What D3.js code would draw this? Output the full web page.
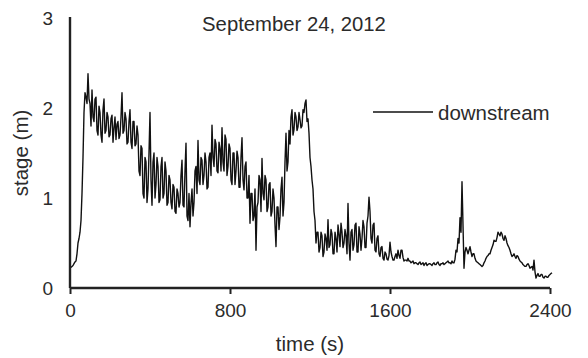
<!DOCTYPE html>
<html>
<head>
<meta charset="utf-8">
<script src="https://cdn.jsdelivr.net/npm/d3@7"></script>
<style>
  html, body { margin: 0; padding: 0; background: #fff; }
  svg { display: block; }
  text { font-family: "Liberation Sans", Arial, sans-serif; fill: #2b2b2b; }
</style>
</head>
<body>
<svg id="chart" width="588" height="358"></svg>
<script>
// ---- data ----
const title = "September 24, 2012";
const seriesName = "downstream";
const xLabel = "time (s)";
const yLabel = "stage (m)";
const xTicks = [0, 800, 1600, 2400];
const yTicks = [0, 1, 2, 3];
const sampleInterval = 5; // seconds between readings
// stage (m), one reading every 5 s from t = 0 s (each row = 50 s)
const stage = [
  0.22, 0.23, 0.24, 0.25, 0.27, 0.29, 0.30, 0.38, 0.50, 0.55,
  0.62, 0.75, 1.05, 1.45, 1.95, 2.17, 2.12, 2.05, 2.38, 2.10,
  2.05, 1.80, 2.20, 1.90, 1.85, 2.10, 2.12, 1.75, 1.70, 2.02,
  1.95, 1.70, 1.62, 1.98, 2.10, 1.72, 1.75, 1.95, 1.90, 1.68,
  1.70, 1.88, 1.92, 1.62, 1.78, 1.90, 1.65, 1.82, 1.85, 1.66,
  1.70, 1.90, 2.17, 1.72, 1.75, 1.95, 1.88, 1.60, 1.62, 1.85,
  1.98, 1.62, 1.55, 1.85, 1.85, 1.58, 1.60, 1.80, 1.70, 1.30,
  1.25, 1.58, 1.55, 1.05, 1.00, 1.45, 1.40, 0.95, 1.10, 1.50,
  1.95, 1.20, 0.92, 1.40, 1.50, 1.00, 1.15, 1.45, 1.35, 0.95,
  0.98, 1.35, 1.45, 1.00, 1.05, 1.40, 1.30, 0.92, 0.95, 1.25,
  1.20, 0.95, 0.88, 1.15, 1.12, 0.85, 0.83, 1.10, 1.05, 0.90,
  0.95, 1.25, 1.42, 0.92, 0.90, 1.30, 1.61, 0.80, 0.75, 1.05,
  0.68, 0.95, 1.10, 0.80, 0.95, 1.30, 1.35, 1.05, 1.64, 1.20,
  1.15, 1.45, 1.42, 1.15, 1.25, 1.50, 1.40, 1.10, 1.12, 1.45,
  1.50, 1.25, 1.81, 1.45, 1.35, 1.65, 1.60, 1.30, 1.28, 1.62,
  1.55, 1.30, 1.78, 1.40, 1.30, 1.70, 1.65, 1.25, 1.35, 1.60,
  1.55, 1.20, 1.15, 1.50, 1.50, 1.15, 1.30, 1.52, 1.45, 1.12,
  1.12, 1.45, 1.67, 1.20, 1.09, 1.35, 1.40, 1.00, 1.00, 1.25,
  0.72, 1.05, 1.05, 0.75, 0.80, 1.10, 0.42, 0.90, 0.95, 1.25,
  1.20, 0.85, 1.44, 1.05, 0.98, 1.25, 1.20, 0.85, 0.90, 1.15,
  1.17, 0.80, 0.85, 1.10, 1.00, 0.70, 0.46, 0.90, 0.90, 0.65,
  0.79, 1.10, 1.23, 0.80, 0.95, 1.40, 1.72, 1.30, 1.40, 1.75,
  1.60, 1.90, 1.98, 1.70, 1.76, 1.95, 1.90, 1.75, 1.79, 1.95,
  1.87, 1.78, 1.80, 1.98, 1.95, 2.05, 2.09, 1.85, 1.88, 1.72,
  1.45, 1.35, 1.20, 1.10, 0.85, 0.75, 0.50, 0.62, 0.62, 0.40,
  0.45, 0.62, 0.58, 0.35, 0.40, 0.60, 0.55, 0.42, 0.76, 0.45,
  0.48, 0.65, 0.60, 0.38, 0.38, 0.62, 0.55, 0.40, 0.70, 0.60,
  0.46, 0.72, 0.62, 0.45, 0.50, 0.65, 0.58, 0.38, 0.94, 0.50,
  0.31, 0.62, 0.65, 0.42, 0.48, 0.70, 0.72, 0.40, 0.40, 0.68,
  0.60, 0.42, 0.55, 0.75, 0.68, 0.45, 0.45, 0.72, 0.80, 1.01,
  0.85, 0.55, 0.50, 0.70, 0.72, 0.42, 0.40, 0.55, 0.58, 0.38,
  0.35, 0.45, 0.46, 0.33, 0.31, 0.40, 0.38, 0.32, 0.31, 0.36,
  0.51, 0.40, 0.35, 0.31, 0.31, 0.35, 0.38, 0.33, 0.42, 0.36,
  0.33, 0.42, 0.42, 0.34, 0.30, 0.31, 0.31, 0.30, 0.33, 0.30,
  0.30, 0.28, 0.29, 0.30, 0.27, 0.28, 0.28, 0.27, 0.26, 0.28,
  0.29, 0.26, 0.27, 0.28, 0.25, 0.27, 0.28, 0.25, 0.26, 0.27,
  0.27, 0.26, 0.25, 0.27, 0.28, 0.26, 0.26, 0.28, 0.29, 0.26,
  0.25, 0.27, 0.27, 0.28, 0.26, 0.27, 0.28, 0.29, 0.30, 0.28,
  0.28, 0.27, 0.30, 0.28, 0.28, 0.32, 0.42, 0.40, 0.55, 0.50,
  0.78, 0.62, 1.18, 0.70, 0.22, 0.40, 0.45, 0.42, 0.38, 0.42,
  0.46, 0.40, 0.35, 0.38, 0.38, 0.33, 0.30, 0.29, 0.28, 0.27,
  0.26, 0.25, 0.24, 0.25, 0.28, 0.30, 0.33, 0.35, 0.36, 0.38,
  0.38, 0.42, 0.45, 0.48, 0.53, 0.52, 0.52, 0.56, 0.62, 0.60,
  0.58, 0.62, 0.60, 0.55, 0.53, 0.58, 0.55, 0.50, 0.47, 0.45,
  0.42, 0.38, 0.35, 0.36, 0.38, 0.35, 0.33, 0.36, 0.35, 0.32,
  0.30, 0.29, 0.28, 0.26, 0.25, 0.24, 0.24, 0.26, 0.27, 0.25,
  0.22, 0.23, 0.24, 0.20, 0.31, 0.18, 0.11, 0.14, 0.16, 0.13,
  0.13, 0.15, 0.15, 0.12, 0.11, 0.13, 0.13, 0.12, 0.12, 0.14,
  0.15, 0.16, 0.17
];

// ---- layout ----
const svg = d3.select("#chart");
const x = d3.scaleLinear().domain([0, 2400]).range([70, 550]);
const y = d3.scaleLinear().domain([0, 3]).range([288, 18]);
const axisColor = "#222";

const data = stage.map((v, i) => ({ t: i * sampleInterval, v }));

// data line
svg.append("path")
  .datum(data)
  .attr("fill", "none")
  .attr("stroke", "#111")
  .attr("stroke-width", 1.4)
  .attr("stroke-linejoin", "round")
  .attr("d", d3.line().x(d => x(d.t)).y(d => y(d.v)));

// x axis
const xAxis = svg.append("g")
  .attr("transform", `translate(0,${y(0)})`)
  .call(d3.axisBottom(x).tickValues(xTicks).tickSize(6).tickPadding(10).tickFormat(d3.format("d")));
xAxis.select(".domain").attr("stroke", axisColor).attr("stroke-width", 2.4)
  .attr("d", `M${x(0)},0H${x(2400)}`);
xAxis.selectAll(".tick line").attr("stroke", axisColor).attr("stroke-width", 2);
xAxis.selectAll(".tick text").attr("font-size", 19).attr("fill", "#2b2b2b")
  .attr("font-family", "Liberation Sans, Arial, sans-serif");

// y axis
const yAxis = svg.append("g")
  .attr("transform", `translate(${x(0)},0)`)
  .call(d3.axisLeft(y).tickValues(yTicks).tickSize(0).tickPadding(17).tickFormat(d3.format("d")));
yAxis.select(".domain").attr("stroke", axisColor).attr("stroke-width", 2.4)
  .attr("d", `M0,${y(3) - 1}V${y(0)}`);
yAxis.selectAll(".tick text").attr("font-size", 19).attr("fill", "#2b2b2b")
  .attr("font-family", "Liberation Sans, Arial, sans-serif");

// axis titles
svg.append("text")
  .attr("x", 310).attr("y", 351)
  .attr("text-anchor", "middle")
  .attr("font-size", 20.5)
  .text(xLabel);

svg.append("text")
  .attr("transform", `translate(28,153) rotate(-90)`)
  .attr("text-anchor", "middle")
  .attr("font-size", 20.5)
  .text(yLabel);

// title
svg.append("text")
  .attr("x", 294).attr("y", 31)
  .attr("text-anchor", "middle")
  .attr("font-size", 20.3)
  .text(title);

// legend
svg.append("line")
  .attr("x1", 373).attr("x2", 433)
  .attr("y1", 112).attr("y2", 112)
  .attr("stroke", "#111").attr("stroke-width", 1.4);
svg.append("text")
  .attr("x", 438).attr("y", 120)
  .attr("font-size", 20.5)
  .text(seriesName);
</script>
</body>
</html>
